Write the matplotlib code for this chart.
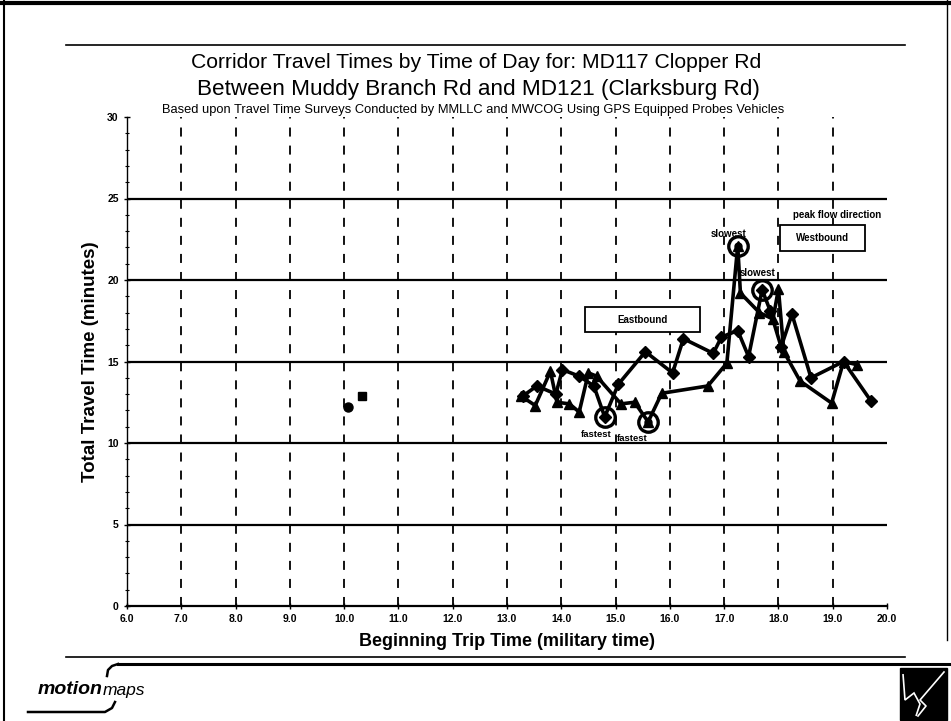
import matplotlib
matplotlib.use("Agg")
import matplotlib.pyplot as plt
from matplotlib.patches import Rectangle, Polygon

plt.rcParams['font.family'] = ['Liberation Sans', 'DejaVu Sans']

# Eastbound probe runs (diamonds)
east_time = [13.3, 13.55, 13.9, 14.02, 14.33, 14.6, 14.8, 15.05, 15.55, 16.05,
             16.25, 16.8, 16.95, 17.25, 17.45, 17.7, 17.85, 18.05, 18.25, 18.6,
             19.2, 19.7]
east_min = [12.9, 13.5, 13.0, 14.5, 14.1, 13.5, 11.6, 13.6, 15.6, 14.3,
            16.4, 15.5, 16.5, 16.9, 15.3, 19.4, 18.1, 15.9, 17.9, 14.0,
            15.0, 12.6]

# Westbound probe runs (triangles)
west_time = [13.25, 13.52, 13.8, 13.92, 14.15, 14.33, 14.5, 14.65, 15.1, 15.35,
             15.6, 15.85, 16.7, 17.05, 17.25, 17.3, 17.65, 17.9, 18.0, 18.1,
             18.4, 18.98, 19.2, 19.45]
west_min = [12.9, 12.3, 14.4, 12.5, 12.4, 11.9, 14.3, 14.1, 12.4, 12.5,
            11.3, 13.05, 13.5, 14.9, 22.1, 19.2, 18.0, 17.6, 19.45, 15.6,
            13.8, 12.45, 15.0, 14.8]

# Isolated morning runs
morning_time = [10.08, 10.33]
morning_min = [12.2, 12.9]

# Extreme runs highlighted with open circles
fastest_time = [14.8, 15.6]
fastest_min = [11.6, 11.3]
slowest_time = [17.25, 17.7]
slowest_min = [22.1, 19.4]

x_ticks = [6, 7, 8, 9, 10, 11, 12, 13, 14, 15, 16, 17, 18, 19, 20]
y_ticks = [0, 5, 10, 15, 20, 25, 30]

W, H = 951, 721
fig = plt.figure(figsize=(W / 100, H / 100), dpi=100)
fig.patch.set_facecolor('white')

# Page furniture drawn in pixel coordinates
page = fig.add_axes([0, 0, 1, 1])
page.set_xlim(0, W)
page.set_ylim(H, 0)
page.axis('off')
page.set_zorder(0)

page.plot([0, W], [3, 3], color='black', lw=3)
page.plot([4, 4], [0, H], color='black', lw=1.5)
page.plot([947, 947], [0, 640], color='black', lw=1.0)
page.plot([66, 905], [45, 45], color='black', lw=1.2)
page.plot([66, 905], [657, 657], color='black', lw=1.2)
page.plot([118, W], [664, 664], color='black', lw=2.2)
# swoosh around the logo
page.plot([118, 112, 108, 107], [664, 666, 670, 676], color='black', lw=1.8)
page.plot([28, 105, 112, 115], [712, 712, 708, 702], color='black', lw=1.8)
page.text(38, 690, 'motion', fontsize=14, fontweight='bold', style='italic',
          va='center', ha='left')
page.text(103, 691, 'maps', fontsize=12.5, style='italic', va='center', ha='left')
page.add_patch(Rectangle((900, 668), 47, 52, color='black'))
page.add_patch(Polygon([[903, 674], [905, 700], [914, 693], [920, 704],
                        [916, 716]], closed=False, fill=False,
                       edgecolor='white', lw=1.2))
page.plot([944, 920, 926, 918], [672, 700, 706, 716], color='white', lw=1.2)

page.text(476, 62, 'Corridor Travel Times by Time of Day for: MD117 Clopper Rd',
          fontsize=15.2, ha='center', va='center')
page.text(478, 89, 'Between Muddy Branch Rd and MD121 (Clarksburg Rd)',
          fontsize=16.2, ha='center', va='center')
page.text(162, 110, 'Based upon Travel Time Surveys Conducted by MMLLC and MWCOG '
          'Using GPS Equipped Probes Vehicles', fontsize=9.3, ha='left', va='center')

# Chart area
ax = fig.add_axes([127 / W, 1 - 606 / H, 760 / W, 489 / H])
ax.set_zorder(1)
ax.patch.set_alpha(0)
ax.set_xlim(6, 20)
ax.set_ylim(0, 30)

for yv in y_ticks[1:-1]:
    ax.axhline(yv, color='black', lw=1.6, zorder=1)
for xv in x_ticks[1:-1]:
    ax.axvline(xv, color='black', lw=1.3, ls=(0, (5, 5)), zorder=1)

ax.plot(west_time, west_min, color='black', lw=2.6, marker='^', ms=7.5, zorder=3)
ax.plot(east_time, east_min, color='black', lw=2.6, marker='D', ms=6.5, zorder=3)
ax.plot(morning_time[:1], morning_min[:1], 'o', color='black', ms=6.5, zorder=3)
ax.plot(morning_time[1:], morning_min[1:], 's', color='black', ms=5.5, zorder=3)
ax.plot(fastest_time, fastest_min, 'o', ms=14, mfc='none', mec='black', mew=2.4, zorder=4)
ax.plot(slowest_time, slowest_min, 'o', ms=14, mfc='none', mec='black', mew=2.4, zorder=4)
ax.plot(fastest_time, fastest_min, 'o', ms=5, color='black', zorder=4)
ax.plot(slowest_time, slowest_min, 'o', ms=5, color='black', zorder=4)

ax.text(14.64, 10.55, 'fastest', fontsize=6.8, fontweight='bold', ha='center', va='center')
ax.text(15.3, 10.25, 'fastest', fontsize=6.8, fontweight='bold', ha='center', va='center')
ax.text(17.09, 22.8, 'slowest', fontsize=7, fontweight='bold', ha='center', va='center')
ax.text(17.62, 20.45, 'slowest', fontsize=7, fontweight='bold', ha='center', va='center')

ax.text(19.08, 24.0, 'peak flow direction', fontsize=7, fontweight='bold',
        ha='center', va='center')
ax.add_patch(Rectangle((18.03, 21.8), 1.56, 1.6, fc='white', ec='black', lw=1.3, zorder=2))
ax.text(18.81, 22.6, 'Westbound', fontsize=7, fontweight='bold', ha='center',
        va='center', zorder=2)
ax.add_patch(Rectangle((14.43, 16.8), 2.12, 1.55, fc='white', ec='black', lw=1.3, zorder=2))
ax.text(15.49, 17.57, 'Eastbound', fontsize=7, fontweight='bold', ha='center',
        va='center', zorder=2)

ax.set_xticks(x_ticks)
ax.set_xticklabels([f'{v:.1f}' for v in x_ticks], fontsize=7.5, fontweight='bold')
ax.set_yticks(y_ticks)
ax.set_yticklabels([str(v) for v in y_ticks], fontsize=7.5, fontweight='bold')
ax.set_yticks(range(0, 31), minor=True)
ax.tick_params(axis='both', which='major', direction='inout', length=5, width=1)
ax.tick_params(axis='y', which='minor', direction='inout', length=3, width=0.8)
for side in ('top', 'right'):
    ax.spines[side].set_visible(False)
ax.spines['left'].set_linewidth(1.0)
ax.spines['bottom'].set_linewidth(1.6)

ax.set_xlabel('Beginning Trip Time (military time)', fontsize=13, fontweight='bold',
              labelpad=6)
ax.set_ylabel('Total Travel Time (minutes)', fontsize=13.5, fontweight='bold', labelpad=6)

fig.savefig('out.png', dpi=100)
